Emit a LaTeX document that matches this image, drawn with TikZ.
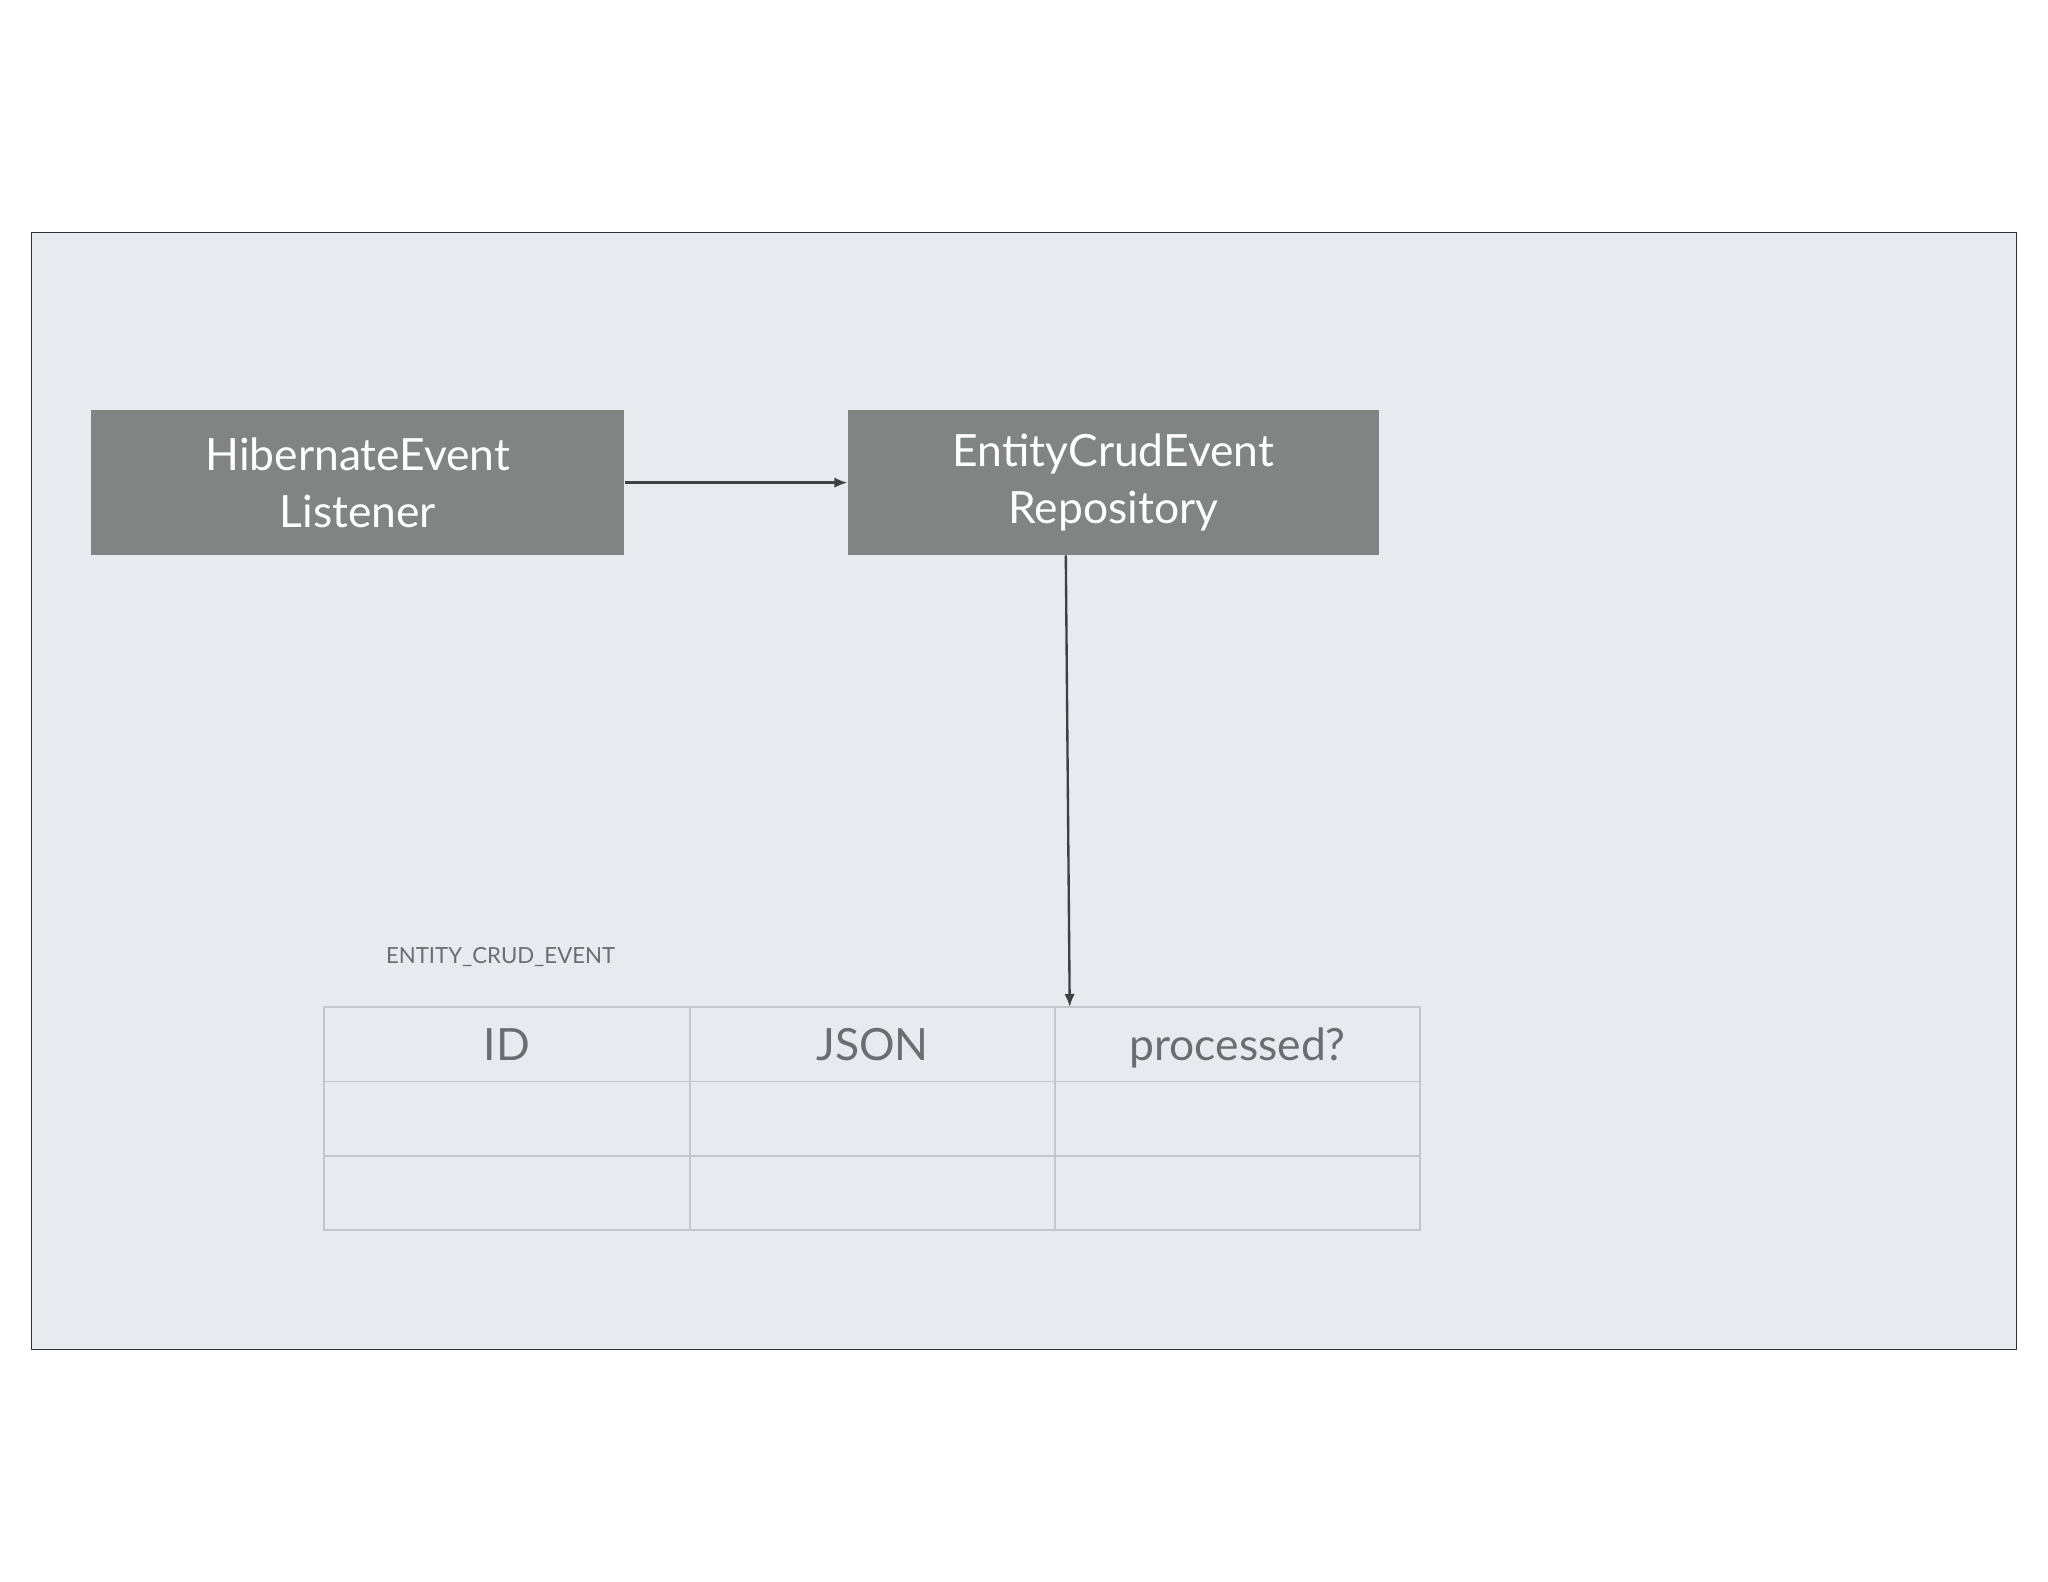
\documentclass[tikz,border=0pt]{standalone}
\usepackage{fontspec}
\setmainfont{Lato}
\usetikzlibrary{arrows.meta}
\definecolor{boxg}{HTML}{808584}
\definecolor{bg}{HTML}{E9EAEF}
\definecolor{tline}{HTML}{C4C6CA}
\definecolor{ttext}{HTML}{6A6E70}
\begin{document}
\begin{tikzpicture}[x=1pt,y=-1pt,
  box/.style={fill=boxg,draw=none,text=white,align=center,inner sep=0pt,
    font=\fontsize{34}{44}\selectfont},
  arr/.style={draw=black!75,line width=1.8pt,-{Latex[length=10pt,width=8pt]}},
  hdr/.style={text=ttext,font=\fontsize{34}{40}\selectfont,anchor=base}]
\useasboundingbox (0,0) rectangle (1568,1211);
\draw[fill=bg,draw=black!80,line width=1pt] (24,178) rectangle (1544,1033);
\node[box,minimum width=408pt,minimum height=111pt] (hel) at (274,369.5) {HibernateEvent\\Listener};
\node[box,minimum width=407pt,minimum height=111pt] (ecr) at (852.5,369.5) {EntityCrudEvent\\Repository};
\coordinate (tt) at (819,771);
\draw[arr] (hel.east) -- (ecr.west);
\draw[arr] (ecr.south -| 816,0) -- (tt);
\node[text=ttext,font=\fontsize{17}{20}\selectfont,anchor=west] (lbl) at (292,733) {ENTITY\_CRUD\_EVENT};
\draw[tline,line width=1.5pt] (248,771) rectangle (1087,942);
\foreach \y in {828,885} \draw[tline,line width=1.5pt] (248,\y) -- (1087,\y);
\foreach \x in {528,808} \draw[tline,line width=1.5pt] (\x,771) -- (\x,942);
\node[hdr] (hid) at (388,812) {ID};
\node[hdr] (hjs) at (668,812) {JSON};
\node[hdr] (hpr) at (947.5,812) {processed?};
\end{tikzpicture}
\end{document}
